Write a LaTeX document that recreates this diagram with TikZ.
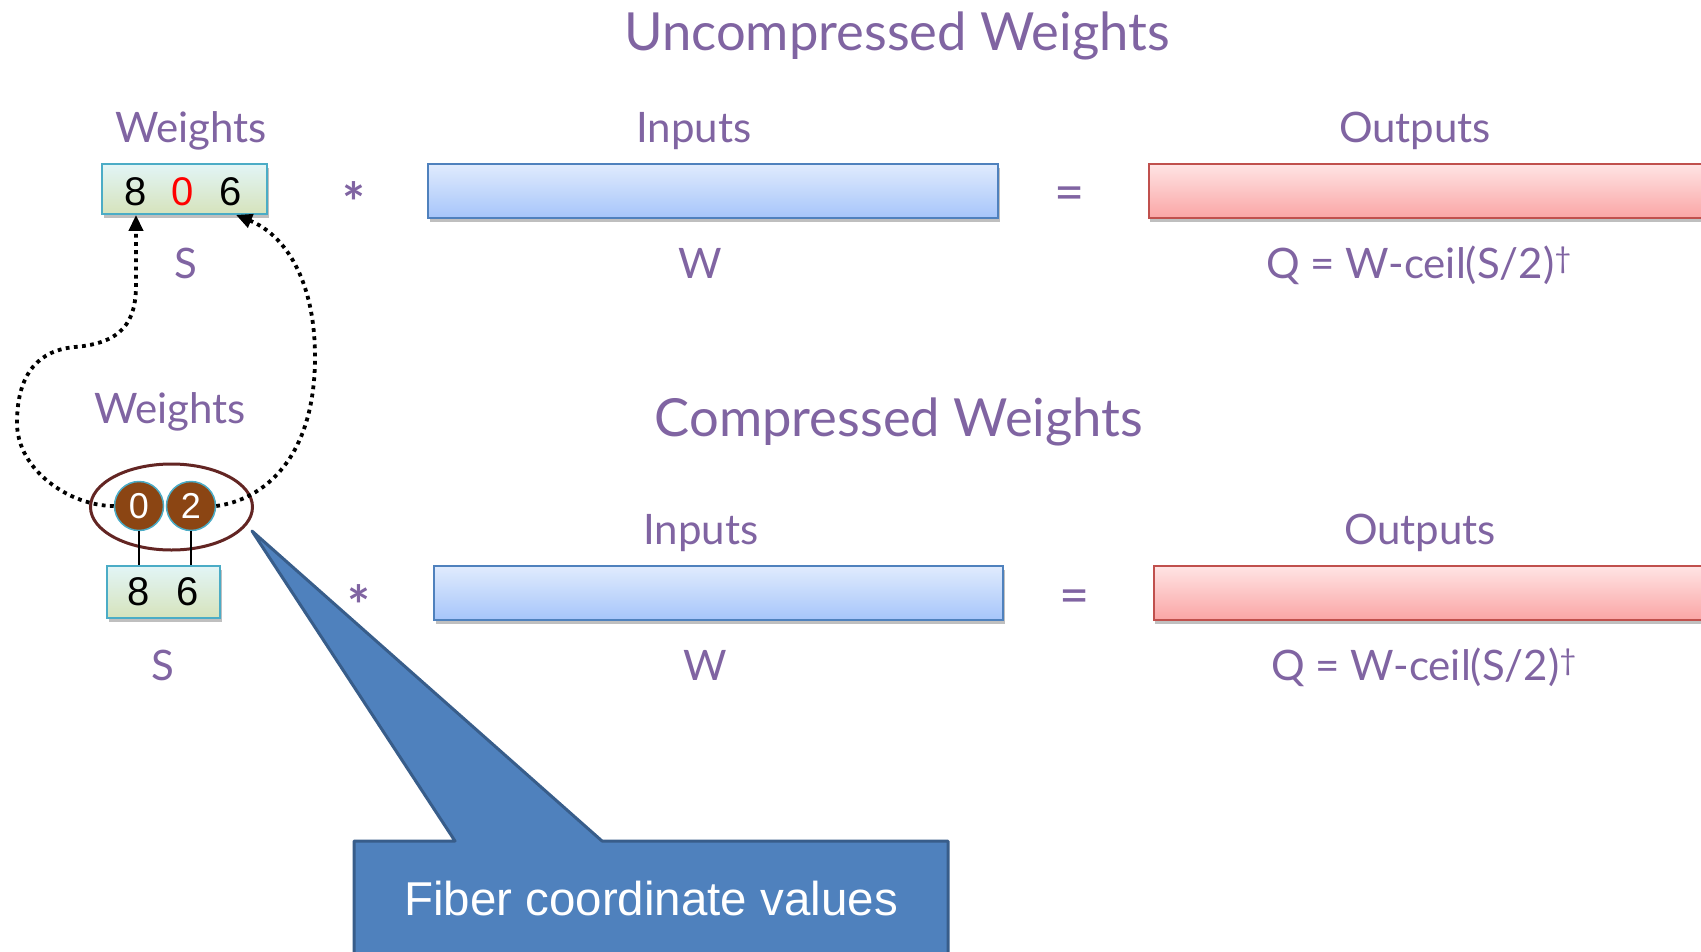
\documentclass[tikz,border=0pt]{standalone}
\usepackage{fontspec}
\setmainfont{Lato}
\newfontfamily\arialfont{Liberation Sans}
\usetikzlibrary{arrows.meta,shadows,calc}

\definecolor{labpurple}{RGB}{128,100,162}
\definecolor{wtopc}{RGB}{226,245,246}
\definecolor{wbotc}{RGB}{214,227,188}
\definecolor{wedge}{RGB}{75,172,198}
\definecolor{itop}{RGB}{224,235,253}
\definecolor{ibot}{RGB}{166,197,250}
\definecolor{iedge}{RGB}{79,129,189}
\definecolor{otop}{RGB}{255,228,228}
\definecolor{obot}{RGB}{250,165,165}
\definecolor{oedge}{RGB}{192,80,77}
\definecolor{coordfill}{RGB}{139,69,19}
\definecolor{ringc}{RGB}{99,37,35}
\definecolor{calloutfill}{RGB}{79,129,189}
\definecolor{calloutedge}{RGB}{56,93,138}

\tikzset{
  lab/.style={text=labpurple, font=\fontsize{42}{48}\selectfont, anchor=base, inner sep=0pt},
  ttl/.style={text=labpurple, font=\fontsize{52.5}{60}\selectfont, anchor=base, inner sep=0pt},
  timesop/.style={text=labpurple, font=\bfseries\fontsize{54}{60}\selectfont, anchor=north, inner sep=0pt},
  eqop/.style={text=labpurple, font=\fontsize{52}{60}\selectfont, anchor=north, inner sep=0pt},
  shadowed/.style={drop shadow={shadow xshift=1.5pt, shadow yshift=-4pt, opacity=0.25, fill=black}},
  wbox/.style={draw=wedge, line width=1.8pt, top color=wtopc, bottom color=wbotc, inner sep=0pt, shadowed},
  ibox/.style={draw=iedge, line width=1.8pt, top color=itop, bottom color=ibot, inner sep=0pt, shadowed},
  obox/.style={draw=oedge, line width=1.8pt, top color=otop, bottom color=obot, inner sep=0pt, shadowed},
  digit/.style={font=\arialfont\fontsize{40}{48}\selectfont, anchor=base, inner sep=0pt},
  coordval/.style={circle, fill=coordfill, draw=wedge, line width=1.5pt, minimum size=49pt, inner sep=0pt,
    text=white, font=\arialfont\fontsize{36}{40}\selectfont},
  link/.style={line width=2.5pt},
  trail/.style={line width=3.8pt, dash pattern=on 3.8pt off 4.4pt, -{Triangle[length=16pt,width=14pt]}},
}

\begin{document}
\begin{tikzpicture}[x=1pt, y=-1pt]
  \useasboundingbox (0,0) rectangle (1701,951);
  \clip (0,0) rectangle (1701,951);
  \fill[white] (0,0) rectangle (1701,951);

  % ---------- uncompressed ----------
  \node[ttl] (t1) at (897,50) {Uncompressed Weights};

  \node[lab] (lw1) at (191,142) {Weights};
  \node[lab] (li1) at (694,142) {Inputs};
  \node[lab] (lo1) at (1415,142) {Outputs};

  \node[wbox, minimum width=165pt, minimum height=50pt] (wtop) at (184.5,189) {};
  \node[digit] (d8) at (136,205) {8};
  \node[digit, text=red] (d0) at (183,205) {0};
  \node[digit] (d6) at (231,205) {6};

  \node[timesop] (m1) at (354,181) {*};
  \node[ibox, minimum width=570pt, minimum height=54pt] (in1) at (713,191) {};
  \node[eqop] (e1) at (1070,187) {=};
  \node[obox, minimum width=600pt, minimum height=54pt, anchor=west] (out1) at (1148,191) {};

  \node[lab] (ls1) at (186,278) {S};
  \node[lab] (lwv1) at (700,278) {W};
  \node[lab] (lq1) at (1419,278) {Q = W-ceil(S/2)\textsuperscript{\dag}};

  % ---------- compressed ----------
  \node[ttl] (t2) at (899,436) {Compressed Weights};

  \node[lab] (lw2) at (170,423) {Weights};
  \node[lab] (li2) at (701,544) {Inputs};
  \node[lab] (lo2) at (1420,544) {Outputs};

  \node[coordval] (c0) at (139,506) {0};
  \node[coordval] (c2) at (191,506) {2};
  \draw[ringc, line width=3pt] (171.5,507) ellipse [x radius=81, y radius=43];

  \node[wbox, minimum width=113pt, minimum height=52pt] (wbot) at (163.5,592) {};
  \node[digit] (b8) at (139,605) {8};
  \node[digit] (b6) at (188,605) {6};

  \draw[link] (c0.south) -- (wbot.north -| c0.south);
  \draw[link] (c2.south) -- (wbot.north -| c2.south);

  \node[timesop] (m2) at (359,584) {*};
  \node[ibox, minimum width=569pt, minimum height=54pt] (in2) at (718.5,593) {};
  \node[eqop] (e2) at (1075,590) {=};
  \node[obox, minimum width=600pt, minimum height=54pt, anchor=west] (out2) at (1153,593) {};

  \node[lab] (ls2) at (163,680) {S};
  \node[lab] (lwv2) at (705,680) {W};
  \node[lab] (lq2) at (1424,680) {Q = W-ceil(S/2)\textsuperscript{\dag}};

  % ---------- dotted trails from coordinates back to the dense row ----------
  \draw[trail] (c0.west) .. controls (70,506) and (17,470) .. (17,423)
     .. controls (17,372) and (40,350) .. (75,347)
     .. controls (122,343) and (136,322) .. (136,285)
     -- (wtop.south -| d8);
  \draw[trail] (c2.east) .. controls (262,500) and (315,460) .. (315,357)
     .. controls (315,280) and (285,235) .. ([xshift=5pt]wtop.south -| d6);

  % ---------- callout ----------
  \draw[fill=calloutfill, draw=calloutedge, line width=3pt, line join=round]
     (252,531) -- (602,841) -- (948,841) -- (948,975) -- (354,975) -- (354,841) -- (455,841) -- cycle;
  \node[text=white, font=\arialfont\fontsize{47.5}{56}\selectfont, anchor=base, inner sep=0pt]
     (note) at (651,915) {Fiber coordinate values};
\end{tikzpicture}
\end{document}
